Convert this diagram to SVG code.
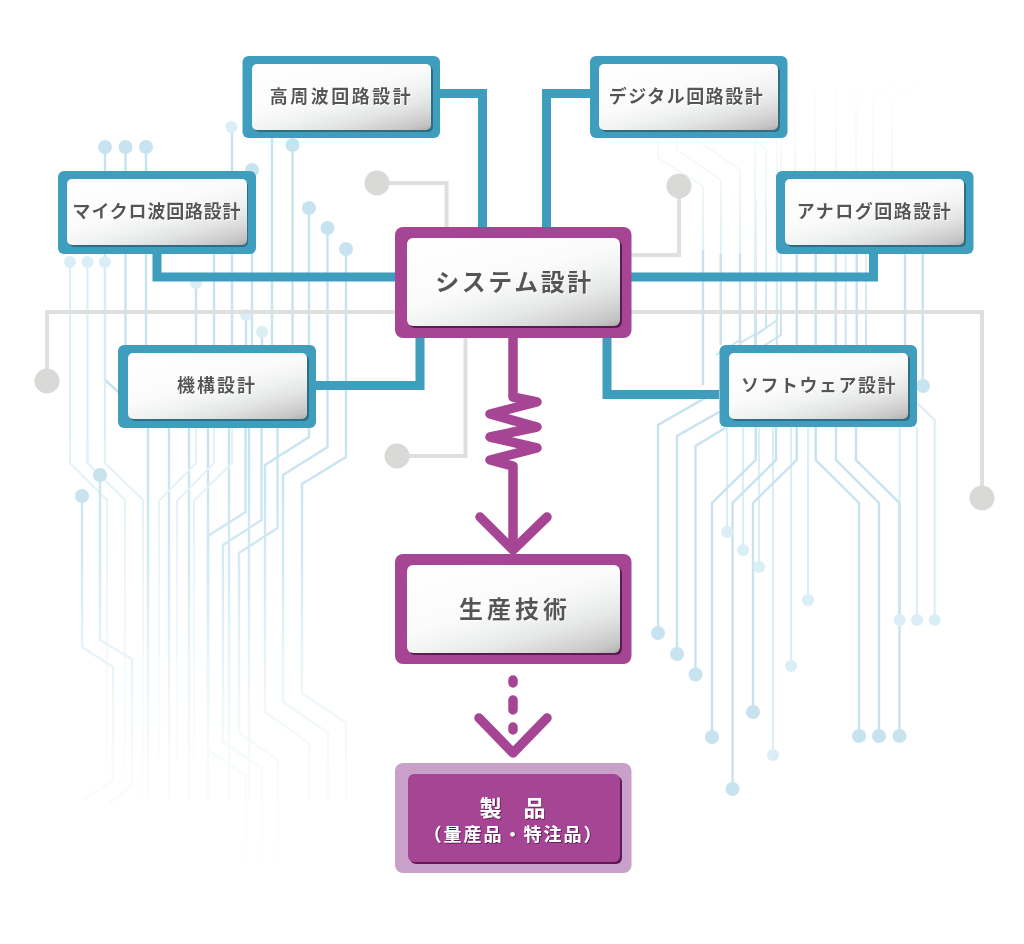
<svg xmlns="http://www.w3.org/2000/svg" width="1024" height="944" viewBox="0 0 1024 944">
<style>
text{font-family:"Noto Sans CJK JP","Noto Sans",sans-serif;font-weight:700;text-anchor:middle;fill:#555}
.s{font-size:18px}
.b{font-size:24px;letter-spacing:2.500px}
.tr{fill:none;stroke-width:2.4;stroke-linejoin:miter}
.a{stroke:#c6e3ef}
.m{stroke:#daeef6;stroke-width:2}
.fb{stroke:url(#fadeB)}
.fbm{stroke:url(#fadeBm);stroke-width:2}
.ft{stroke:url(#fadeT);stroke-width:2}
.d1{fill:#c6e3ef}
.d2{fill:#daeef6}
.grey{fill:none;stroke:#dfdfdd;stroke-width:4}
.gd{fill:#d9d9d7}
.teal{fill:none;stroke:#3f9ebd;stroke-width:9}
.pur{fill:none;stroke:#a64594;stroke-width:9.500;stroke-linecap:round;stroke-linejoin:round}
.ot{fill:#3f9ebd}.st{fill:#2f6d85}
.op{fill:#a64594}.sp{fill:#5e1a52}
.in{fill:url(#shine)}
</style>
<defs>
<linearGradient id="shine" x1="0" y1="0" x2="0.824" y2="1.128">
<stop offset="0" stop-color="#ffffff"/><stop offset="0.45" stop-color="#fbfbfb"/><stop offset="0.6" stop-color="#f1f2f2"/><stop offset="0.72" stop-color="#e6e7e7"/><stop offset="0.84" stop-color="#d6d6d6"/><stop offset="0.94" stop-color="#c4c4c4"/><stop offset="1" stop-color="#adadad"/>
</linearGradient>
<linearGradient id="fadeB" gradientUnits="userSpaceOnUse" x1="0" y1="430" x2="0" y2="880">
<stop offset="0" stop-color="#c6e3ef"/><stop offset="0.3" stop-color="#d3eaf3"/><stop offset="0.5" stop-color="#e8f4f9"/><stop offset="0.7" stop-color="#f5fafc"/><stop offset="1" stop-color="#ffffff"/>
</linearGradient>
<linearGradient id="fadeBm" gradientUnits="userSpaceOnUse" x1="0" y1="300" x2="0" y2="820">
<stop offset="0" stop-color="#daeef6"/><stop offset="0.4" stop-color="#e6f3f8"/><stop offset="0.7" stop-color="#f5fafc"/><stop offset="1" stop-color="#ffffff"/>
</linearGradient>
<linearGradient id="fadeT" gradientUnits="userSpaceOnUse" x1="0" y1="70" x2="0" y2="345">
<stop offset="0" stop-color="#ffffff"/><stop offset="0.35" stop-color="#f3f9fb"/><stop offset="0.68" stop-color="#e0f0f6"/><stop offset="1" stop-color="#c6e3ef"/>
</linearGradient>
<filter id="ws" x="-10%" y="-20%" width="120%" height="140%"><feDropShadow dx="0.8" dy="0.8" stdDeviation="0.3" flood-color="#fff" flood-opacity="0.9"/></filter>
<filter id="ds" x="-10%" y="-20%" width="120%" height="140%"><feDropShadow dx="0.8" dy="0.8" stdDeviation="0.4" flood-color="#4a1040" flood-opacity="0.9"/></filter>
</defs>

<g id="traces">
<g class="tr">
<path class="a" d="M105 147V380L125 398M125.500 147V350M146 147V350M232 127V345M252 170V345M272 138V345M292.500 145V345M214 254V345M196 283V345M246 315V345M262 332V345"/>
<path class="m" d="M70 262V463M87.500 262V463M105 262V463"/>
<path class="fbm" d="M70 440V463L107 500V780M87.500 440V463L125 500V780M105 440V463L143 500V800"/>
<path class="fb" d="M82 496V647L113 667V780L83 800M100 475V640L132 659V785L107 805"/>
<path class="fb" d="M148 425V800M169 425V800M189 425V800M208 425V800M229 425V800M249 425V800"/>
<path class="fbm" d="M196 425V463L159 501V760M214 425V463L177 501V760M232 425V463L194 501V760"/>
<path class="fb" d="M245.500 425V512L208 536V750L246 776V880M261.500 425V520L223 545V742L262 768V880M277.500 425V528L239 553V733L278 760V880"/>
<path class="fb" d="M309 208V437L265 465V712L309 743V800M327.500 228V447L283 475V702L328 733V800M346 249V457L302 484V693L346 723V800"/>
<path class="ft" d="M658 140V158L703 186V345M677 140V150L721 180V345M697 140L740 170V340L716 355M755 140L766 150V328L740 343M755 140V345M777 130V320L756 335M781 138V335L757 350"/>
<path class="ft" d="M795 85V171M815 85V171M836 85V171M856 85V171M873 98L898 80M873 98V171M892 100L920 82M892 100V171"/>
<path class="a" d="M796.700 254V345M815.700 254V345M835.700 254V345M856.700 254V345M703 250V385M720.700 254V345M740 254V345M905 254V345M922.700 254V386"/>
<path class="ft" d="M756 200V345M776.700 200V345M845.700 254V345M866 254V345"/>
<path class="a" d="M658 633V425L719 390M677 654V436L719 412M695.500 674.500V446L725 428"/>
<path class="m" d="M727 427V532M743 427V550M759 427V567M773 427V755M791 427V666M808 427V600M899.700 427V620M917 427V620M934.700 620V420L917 403"/>
<path class="a" d="M755.700 427V460L712 503V737M776 427V460L732.500 503V789M796.700 427V460L753 503V712M815.700 427V460L859 503V736M836 427V460L879 503V736M856 427V460L899.500 503V736"/>
</g>
<g class="d1">
<circle cx="105" cy="147" r="7"/><circle cx="125.500" cy="147" r="7"/><circle cx="146" cy="147" r="7"/><circle cx="252" cy="170" r="7"/><circle cx="292.500" cy="145" r="7"/><circle cx="309" cy="208" r="7"/><circle cx="327.500" cy="228" r="7"/><circle cx="346" cy="249" r="7"/><circle cx="82" cy="496" r="7"/><circle cx="100" cy="475" r="7"/>
<circle cx="923" cy="386" r="7"/><circle cx="658" cy="633" r="7"/><circle cx="677" cy="654" r="7"/><circle cx="695.500" cy="674.500" r="7"/><circle cx="712" cy="737" r="7"/><circle cx="732.500" cy="789" r="7"/><circle cx="753" cy="712" r="7"/><circle cx="859" cy="736" r="7"/><circle cx="879" cy="736" r="7"/><circle cx="899.500" cy="736" r="7"/>
</g>
<g class="d2">
<circle cx="231.500" cy="127" r="6"/><circle cx="70" cy="262" r="6"/><circle cx="87.500" cy="262" r="6"/><circle cx="105" cy="262" r="6"/><circle cx="196" cy="283" r="6"/><circle cx="246" cy="315" r="6"/><circle cx="262" cy="332" r="6"/>
<circle cx="727" cy="532" r="6"/><circle cx="743" cy="550" r="6"/><circle cx="759" cy="567" r="6"/><circle cx="773" cy="755" r="6"/><circle cx="791" cy="666" r="6"/><circle cx="808" cy="600" r="6"/><circle cx="899.700" cy="620" r="6"/><circle cx="917" cy="620" r="6"/><circle cx="934.700" cy="620" r="6"/>
</g>
</g>

<g id="connectors">
<path class="grey" d="M377 183H446.500V228M679 186V255H631M397 456H465.500V338M47 381V312H395M631 312H982V498"/>
<g class="gd"><circle cx="377" cy="183" r="12.500"/><circle cx="679" cy="186" r="12.500"/><circle cx="397" cy="456" r="12.500"/><circle cx="47" cy="381" r="12.500"/><circle cx="982" cy="498" r="12.500"/></g>
<path class="teal" d="M440 93.500H482.500V228M590 93.500H546.500V228M157 254V277H395M873.500 254V277H631M316 385.500H420V338M719 394.500H607V338"/>
<path class="pur" d="M513 338V397L537 402L490 414L537 427L490 437L537 448L490 460L513 466V548"/>
<path class="pur" d="M480 517L513 550L547 517"/>
<path class="pur" d="M513 680V683M513 700V710M513 727V730"/>
<path class="pur" d="M479 718L513 753L547 718"/>
</g>

<g id="node-rf"><rect class="ot" x="242.500" y="56" width="197.500" height="82" rx="6"/><rect class="st" x="254" y="66" width="179" height="66" rx="5"/><rect class="in" x="252" y="64" width="179" height="66" rx="5"/><text class="s" x="341.500" y="103" filter="url(#ws)" style="letter-spacing:2.500px">高周波回路設計</text></g>
<g id="node-digital"><rect class="ot" x="590" y="56" width="197.500" height="82" rx="6"/><rect class="st" x="601" y="66" width="179" height="66" rx="5"/><rect class="in" x="599" y="64" width="179" height="66" rx="5"/><text class="s" x="686.500" y="103" filter="url(#ws)" style="letter-spacing:1.500px">デジタル回路設計</text></g>
<g id="node-microwave"><rect class="ot" x="58" y="171" width="198" height="83" rx="6"/><rect class="st" x="69" y="181" width="179" height="66" rx="5"/><rect class="in" x="67" y="179" width="180" height="66" rx="5"/><text class="s" x="157" y="218" filter="url(#ws)" style="letter-spacing:0.800px">マイクロ波回路設計</text></g>
<g id="node-analog"><rect class="ot" x="776" y="171" width="197.500" height="83" rx="6"/><rect class="st" x="787" y="181" width="179" height="66" rx="5"/><rect class="in" x="785" y="179" width="179" height="66" rx="5"/><text class="s" x="874.500" y="218" filter="url(#ws)" style="letter-spacing:1.500px">アナログ回路設計</text></g>
<g id="node-mech"><rect class="ot" x="118" y="345" width="198" height="83" rx="6"/><rect class="st" x="130" y="355" width="179" height="66" rx="5"/><rect class="in" x="128" y="353" width="179" height="66" rx="5"/><text class="s" x="217" y="392" filter="url(#ws)" style="letter-spacing:2px">機構設計</text></g>
<g id="node-software"><rect class="ot" x="719.500" y="345" width="197.500" height="82" rx="6"/><rect class="st" x="731" y="355" width="179" height="66" rx="5"/><rect class="in" x="729" y="353" width="179" height="66" rx="5"/><text class="s" x="819" y="392" filter="url(#ws)" style="letter-spacing:1.500px">ソフトウェア設計</text></g>
<g id="node-system"><rect class="op" x="395" y="227" width="236.500" height="111" rx="8"/><rect class="sp" x="409" y="240" width="213" height="88" rx="6"/><rect class="in" x="407" y="238" width="213" height="88" rx="6"/><text class="b" x="514.500" y="291" filter="url(#ws)">システム設計</text></g>
<g id="node-prod"><rect class="op" x="395" y="554" width="236.500" height="110" rx="8"/><rect class="sp" x="409" y="567" width="213" height="88" rx="6"/><rect class="in" x="407" y="565" width="213" height="88" rx="6"/><text class="b" x="515" y="617.500" filter="url(#ws)" style="letter-spacing:4px">生産技術</text></g>
<g id="node-product"><rect x="395" y="763" width="236.500" height="110" rx="8" fill="#c9a0ca"/><rect class="sp" x="410" y="776" width="212" height="88" rx="6"/><rect class="op" x="408" y="774" width="212" height="88" rx="6"/><text x="512.500" y="816" filter="url(#ds)" style="fill:#fff;font-size:22px">製　品</text><text x="513.500" y="840.500" filter="url(#ds)" style="fill:#fff;font-size:18px;letter-spacing:2px">（量産品・特注品）</text></g>
</svg>
